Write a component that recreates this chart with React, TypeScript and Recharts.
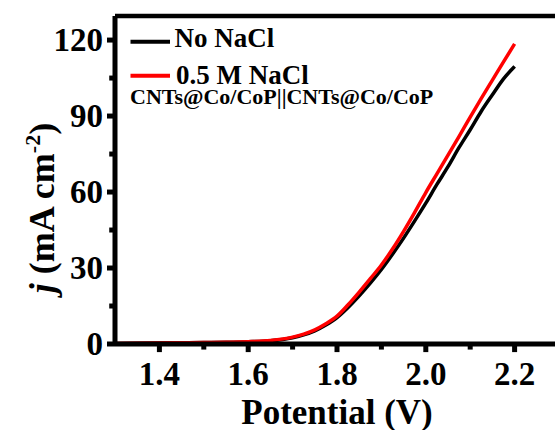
import React from 'react';
import { LineChart, Line, XAxis, YAxis, Legend, ReferenceLine } from 'recharts';

// potential (V) vs current density j (mA cm^-2)
const potential = [1.3, 1.35, 1.4, 1.45, 1.5, 1.55, 1.6, 1.65, 1.7, 1.725, 1.75, 1.775, 1.8, 1.825, 1.85, 1.875, 1.9, 1.925, 1.95, 1.975, 2.0, 2.025, 2.05, 2.075, 2.1, 2.125, 2.15, 2.175, 2.2];
const noNaCl = [0.2, 0.3, 0.4, 0.5, 0.6, 0.7, 0.9, 1.3, 2.5, 3.6, 5.2, 7.5, 10.4, 14.4, 19.0, 24.0, 29.4, 35.4, 41.8, 48.6, 55.6, 63.0, 70.0, 77.6, 84.6, 91.9, 98.4, 104.7, 109.6];
const naCl05 = [0.2, 0.3, 0.4, 0.5, 0.6, 0.7, 0.9, 1.4, 2.7, 3.9, 5.6, 8.0, 11.0, 15.5, 20.5, 25.8, 31.2, 37.5, 44.5, 52.0, 59.8, 67.2, 74.6, 82.0, 89.6, 97.0, 104.2, 111.4, 118.5];

const xTicks = [1.4, 1.5, 1.6, 1.7, 1.8, 1.9, 2.0, 2.1, 2.2];
const yTicks = [0, 15, 30, 45, 60, 75, 90, 105, 120];

const seriesNames = ['No NaCl', '0.5 M NaCl'];
const sampleName = 'CNTs@Co/CoP||CNTs@Co/CoP';

const data = potential.map((v, i) => ({ v, a: noNaCl[i], b: naCl05[i] }));

const FONT = "'Liberation Serif', 'Times New Roman', serif";

// tick labels: x props arrive at axis + 9, y props at axis - 12
const XTick = (props: any) => {
  const { x, y, payload } = props;
  if (Math.round(payload.value * 10) % 2 !== 0) return <g />;
  return (
    <text x={x} y={y + 32} textAnchor="middle" fontFamily={FONT} fontWeight="bold" fontSize={33} fill="#000">
      {payload.value.toFixed(1)}
    </text>
  );
};

const YTick = (props: any) => {
  const { x, y, payload } = props;
  if (payload.value % 30 !== 0) return <g />;
  return (
    <text x={x} y={y + 11} textAnchor="end" fontFamily={FONT} fontWeight="bold" fontSize={33} fill="#000">
      {payload.value}
    </text>
  );
};

const renderLegend = (props: any) => {
  const payload = [...(props.payload || [])].sort(
    (p: any, q: any) => seriesNames.indexOf(p.value) - seriesNames.indexOf(q.value)
  );
  return (
    <svg width={330} height={95} style={{ display: 'block' }}>
      {payload.map((entry: any, i: number) => {
        const ly = i === 0 ? 21.7 : 55.7;
        return (
          <g key={entry.value}>
            <line x1={10.5} x2={50} y1={ly} y2={ly} stroke={entry.color} strokeWidth={4} />
            <text x={i === 0 ? 54.5 : 56} y={i === 0 ? 27.3 : 64} fontFamily={FONT} fontWeight="bold" fontSize={27} fill="#000">
              {entry.value}
            </text>
          </g>
        );
      })}
      <text x={10} y={84} fontFamily={FONT} fontWeight="bold" fontSize={22} fill="#000">
        {sampleName}
      </text>
    </svg>
  );
};

export default function App() {
  return (
    <div style={{ position: 'absolute', left: 0, top: 0, width: 555, height: 430, overflow: 'hidden', background: '#fff' }}>
      <LineChart width={575} height={430} data={data} margin={{ top: 16, right: 16, bottom: 26, left: 0 }}>
        <XAxis
          dataKey="v"
          type="number"
          domain={[1.3, 2.3]}
          ticks={xTicks}
          interval={0}
          height={60}
          tickSize={9}
          tickMargin={0}
          tickLine={false}
          tick={<XTick />}
          axisLine={{ stroke: '#000', strokeWidth: 5 }}
          label={() => (
            <text x={337} y={424} textAnchor="middle" fontFamily={FONT} fontWeight="bold" fontSize={35} fill="#000">
              Potential (V)
            </text>
          )}
        />
        <YAxis
          type="number"
          domain={[0, 129.5]}
          ticks={yTicks}
          interval={0}
          width={115}
          tickSize={8}
          tickMargin={4}
          tickLine={false}
          tick={<YTick />}
          axisLine={{ stroke: '#000', strokeWidth: 5 }}
          label={() => (
            <text
              x={54}
              y={208}
              transform="rotate(-90, 54, 208)"
              textAnchor="middle"
              fontFamily={FONT}
              fontWeight="bold"
              fontSize={36}
              fill="#000"
            >
              <tspan fontStyle="italic">j</tspan>
              <tspan> (mA cm</tspan>
              <tspan fontSize={22} dy={-14}>-2</tspan>
              <tspan dy={14}>)</tspan>
            </text>
          )}
        />
        <ReferenceLine y={129.5} stroke="#000" strokeWidth={4.5} />
        <ReferenceLine x={2.3} stroke="#000" strokeWidth={4.5} />
        {/* outward tick marks drawn as short segments just outside the frame */}
        {xTicks.map((t) => (
          <ReferenceLine
            key={`xt${t}`}
            segment={[{ x: t, y: 0 }, { x: t, y: Math.round(t * 10) % 2 === 0 ? -3.2 : -2.2 }]}
            ifOverflow="visible"
            stroke="#000"
            strokeWidth={5}
          />
        ))}
        {yTicks.map((t) => (
          <ReferenceLine
            key={`yt${t}`}
            segment={[{ x: 1.3, y: t }, { x: t % 30 === 0 ? 1.282 : 1.287, y: t }]}
            ifOverflow="visible"
            stroke="#000"
            strokeWidth={5}
          />
        ))}
        <Legend
          layout="vertical"
          align="center"
          verticalAlign="middle"
          content={renderLegend}
          wrapperStyle={{ left: 120, top: 20, width: 330, height: 95 }}
        />
        <Line type="monotone" dataKey="a" name={seriesNames[0]} stroke="#000000" strokeWidth={3.5} dot={false} isAnimationActive={false} />
        <Line type="monotone" dataKey="b" name={seriesNames[1]} stroke="#ff0000" strokeWidth={3.5} dot={false} isAnimationActive={false} />
      </LineChart>
    </div>
  );
}
